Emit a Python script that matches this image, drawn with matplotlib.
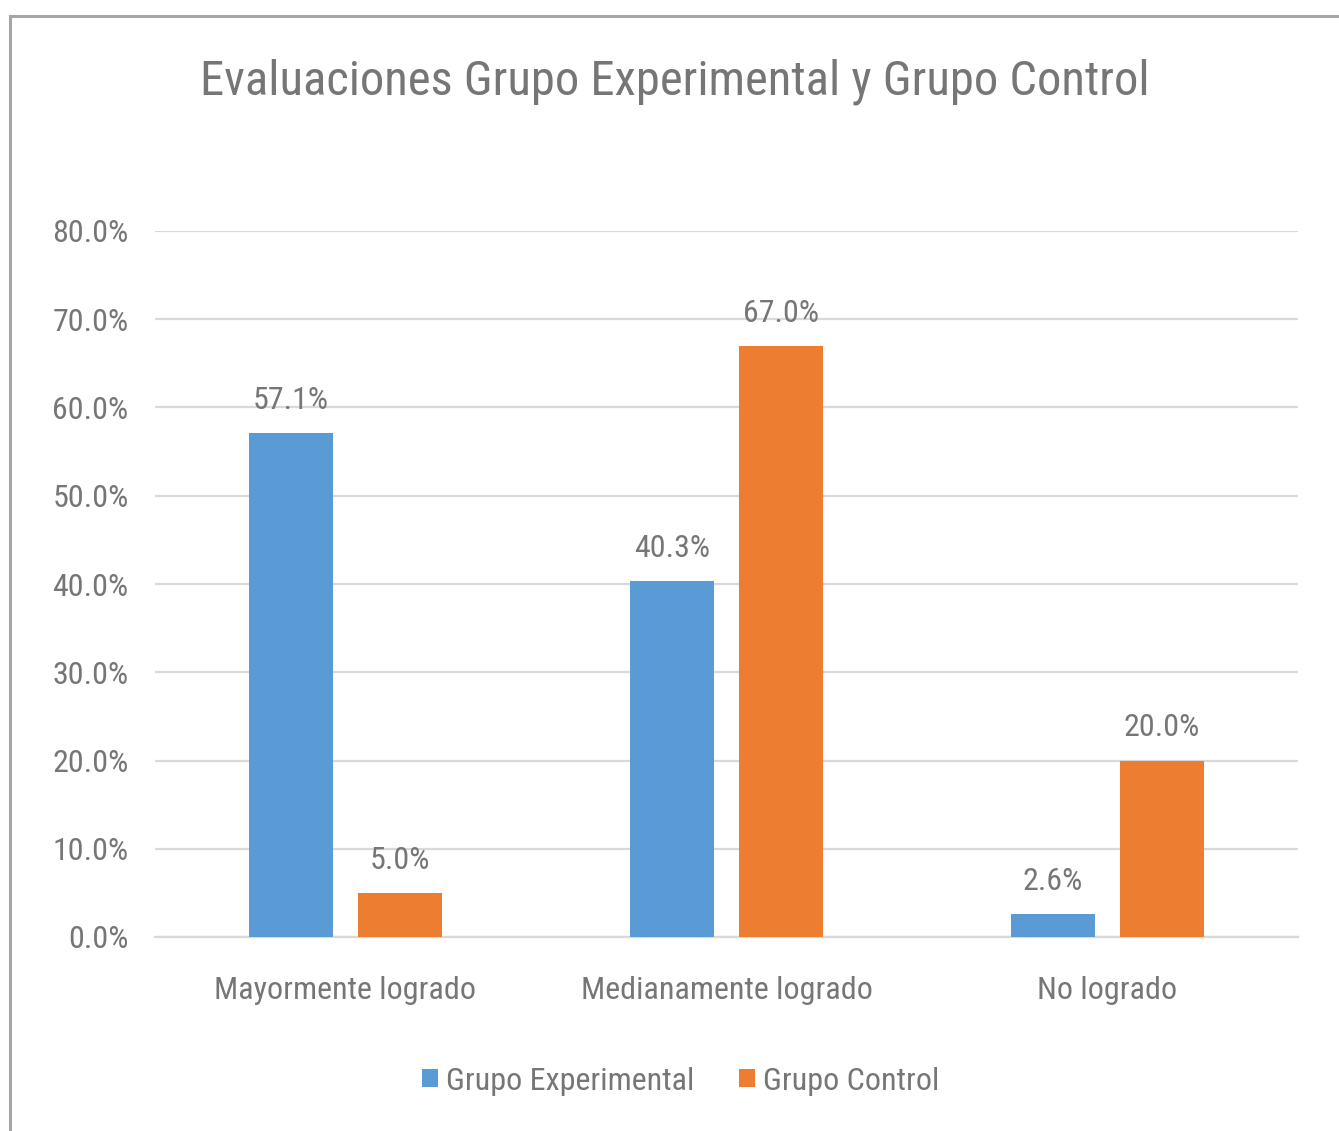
import matplotlib
matplotlib.use('Agg')
import matplotlib.pyplot as plt
import numpy as np
from matplotlib import font_manager

# data
categories = ['Mayormente logrado', 'Medianamente logrado', 'No logrado']
experimental = [57.1, 40.3, 2.6]
control = [5.0, 67.0, 20.0]
series_names = ['Grupo Experimental', 'Grupo Control']
yticks = [0, 10, 20, 30, 40, 50, 60, 70, 80]

# look for a narrow font (the original uses a condensed Calibri-like face)
def pick_font():
    regular = [f for f in font_manager.fontManager.ttflist
               if f.style == 'normal' and f.weight in (400, 'normal', 'regular')]
    prefs = ['Liberation Sans Narrow', 'Roboto Condensed', 'Open Sans Condensed',
             'DejaVu Sans', 'Noto Sans', 'Open Sans', 'Roboto']
    for p in prefs:
        for f in regular:
            narrow = ('Narrow' in f.name or 'Condensed' in f.name
                      or 'condensed' in str(f.stretch))
            if f.name.startswith(p) and narrow:
                return f.name, f.stretch
    return 'Roboto', 'normal'

fam, stretch = pick_font()
plt.rcParams['font.family'] = [fam, 'DejaVu Sans']
plt.rcParams['font.stretch'] = stretch

text_color = '#767676'
blue = '#5B9BD5'
orange = '#ED7D31'

fig = plt.figure(figsize=(13.39, 11.31), dpi=100)
ax = fig.add_axes([155 / 1339, 1 - 937 / 1131, 1143 / 1339, 706 / 1131])

# outer frame of the chart area
fig.add_artist(plt.Rectangle((9.5 / 1339, -0.1), 1.2, 1 - 15.5 / 1131 + 0.1,
                             transform=fig.transFigure, fill=False,
                             edgecolor='#A6A6A6', linewidth=2.2))

x = np.arange(len(categories))
w = 0.223
off = 0.143
b1 = ax.bar(x - off, experimental, w, color=blue, label=series_names[0], zorder=3)
b2 = ax.bar(x + off, control, w, color=orange, label=series_names[1], zorder=3)

for bars in (b1, b2):
    for rect in bars:
        h = rect.get_height()
        ax.annotate(f'{h:.1f}%', (rect.get_x() + rect.get_width() / 2, h),
                    xytext=(0, 13), textcoords='offset points',
                    ha='center', va='bottom', fontsize=23, color=text_color)

ax.set_xlim(-0.5, 2.5)
ax.set_ylim(0, 80)
ax.set_yticks(yticks)
ax.set_yticklabels([f'{v:.1f}%' for v in yticks])
ax.set_xticks(x)
ax.set_xticklabels(categories)
ax.tick_params(axis='y', length=0, pad=19, labelsize=23, labelcolor=text_color)
ax.tick_params(axis='x', length=0, pad=28, labelsize=23, labelcolor=text_color)
ax.yaxis.grid(True, color='#D9D9D9', linewidth=1.6, zorder=0)
for s in ['top', 'right', 'left']:
    ax.spines[s].set_visible(False)
ax.spines['bottom'].set_color('#D9D9D9')
ax.spines['bottom'].set_linewidth(1.6)
ax.set_axisbelow(True)

fig.text(675 / 1339, 1 - 82 / 1131, 'Evaluaciones Grupo Experimental y Grupo Control',
         ha='center', va='center', fontsize=35, color=text_color)

fig.legend(loc='center', bbox_to_anchor=(681 / 1339, 1 - 1081 / 1131), ncol=2,
           frameon=False, fontsize=23, labelcolor=text_color,
           handlelength=0.5, handleheight=0.5, handletextpad=0.25, columnspacing=1.4)

fig.savefig('out.png', dpi=100)
